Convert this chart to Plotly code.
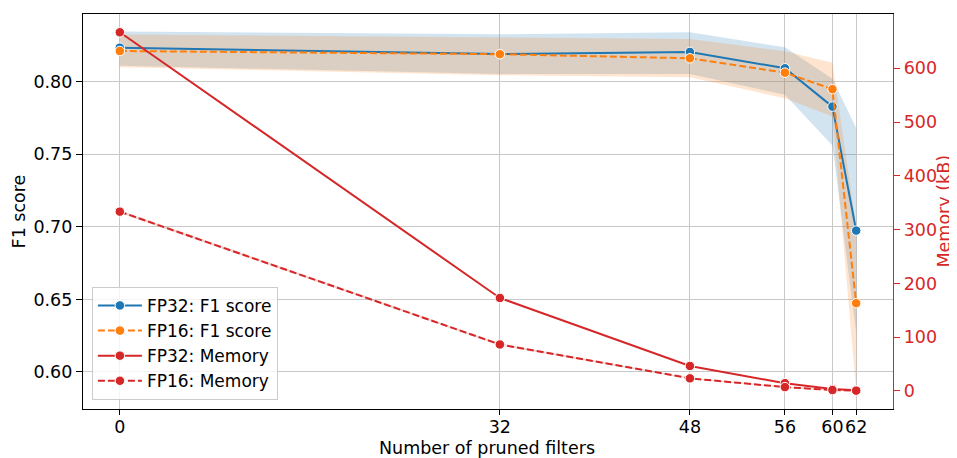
import plotly.graph_objects as go

# ---- data ----
pruned = [0, 32, 48, 56, 60, 62]
x_ticks = [0, 32, 48, 56, 60, 62]

f1_fp32 = [0.8234, 0.8190, 0.8205, 0.8092, 0.7828, 0.6974]
f1_fp32_hi = [0.8345, 0.8326, 0.8340, 0.8237, 0.8020, 0.7680]
f1_fp32_lo = [0.8110, 0.8053, 0.8053, 0.7910, 0.7560, 0.6270]

f1_fp16 = [0.8211, 0.8189, 0.8161, 0.8062, 0.7948, 0.6474]
f1_fp16_hi = [0.8325, 0.8303, 0.8294, 0.8210, 0.8130, 0.7000]
f1_fp16_lo = [0.8100, 0.8044, 0.8030, 0.7886, 0.7760, 0.5870]

mem_fp32 = [667, 173, 46.5, 14.5, 3.5, 1.2]
mem_fp16 = [333.5, 86.5, 23.5, 7.2, 1.8, 0.6]
mem_fp16_hi = [336.0, 88.5, 24.8, 8.2, 2.6, 1.3]
mem_fp16_lo = [331.0, 84.5, 22.2, 6.2, 1.0, 0.0]

y1_ticks = [0.60, 0.65, 0.70, 0.75, 0.80]
y2_ticks = [0, 100, 200, 300, 400, 500, 600]

BLUE = "#1f77b4"
ORANGE = "#ff7f0e"
RED = "#d62728"
FONT = "DejaVu Sans"
FS = 17.5

W, H = 949, 450
ML, MR, MT, MB = 75, 64, 6, 49
PW, PH = W - ML - MR, H - MT - MB

fig = go.Figure()


def band(x, lo, hi, color, yaxis):
    return go.Scatter(
        x=list(x) + list(x)[::-1],
        y=list(hi) + list(lo)[::-1],
        fill="toself",
        fillcolor=color,
        line=dict(width=0),
        mode="lines",
        hoverinfo="skip",
        showlegend=False,
        yaxis=yaxis,
    )


fig.add_trace(band(pruned, f1_fp32_lo, f1_fp32_hi, "rgba(31,119,180,0.2)", "y"))
fig.add_trace(band(pruned, f1_fp16_lo, f1_fp16_hi, "rgba(255,127,14,0.2)", "y"))

marker_common = dict(size=9.5, line=dict(color="white", width=1))

fig.add_trace(go.Scatter(
    x=pruned, y=f1_fp32, name="FP32: F1 score", mode="lines+markers",
    line=dict(color=BLUE, width=2), marker=dict(color=BLUE, **marker_common), yaxis="y"))
fig.add_trace(go.Scatter(
    x=pruned, y=f1_fp16, name="FP16: F1 score", mode="lines+markers",
    line=dict(color=ORANGE, width=2, dash="7px,3px"),
    marker=dict(color=ORANGE, **marker_common), yaxis="y"))

fig.add_trace(band(pruned, mem_fp16_lo, mem_fp16_hi, "rgba(214,39,40,0.2)", "y2"))

fig.add_trace(go.Scatter(
    x=pruned, y=mem_fp32, name="FP32: Memory", mode="lines+markers",
    line=dict(color=RED, width=2), marker=dict(color=RED, **marker_common), yaxis="y2"))
fig.add_trace(go.Scatter(
    x=pruned, y=mem_fp16, name="FP16: Memory", mode="lines+markers",
    line=dict(color=RED, width=2, dash="7px,3px"),
    marker=dict(color=RED, **marker_common), yaxis="y2"))

# page body adds an 8px offset, so the figure is 8px smaller and margins shifted
fig.update_layout(
    width=W, height=H,
    margin=dict(l=ML, r=MR, t=MT, b=MB),
    paper_bgcolor="white", plot_bgcolor="white",
    font=dict(family=FONT, size=FS, color="black"),
    showlegend=True,
    legend=dict(
        x=0.011, y=0.023, xanchor="left", yanchor="bottom",
        bgcolor="rgba(255,255,255,0.8)", bordercolor="#cccccc", borderwidth=1,
        font=dict(family=FONT, size=17), itemwidth=44, tracegroupgap=0,
    ),
    xaxis=dict(
        range=[-3.1, 65.1], tickvals=x_ticks, ticktext=[str(v) for v in x_ticks],
        tickangle=0, automargin=False,
        showgrid=True, gridcolor="#c8c8c8", gridwidth=1,
        showline=True, linecolor="black", linewidth=1.3, mirror=True,
        ticks="outside", ticklen=5, tickwidth=1.1, tickcolor="black",
        ticklabelstandoff=-3,
        zeroline=False,
        tickfont=dict(size=FS),
    ),
    yaxis=dict(
        range=[0.5745, 0.8466], tickvals=y1_ticks, tickformat=".2f",
        automargin=False,
        showgrid=True, gridcolor="#c8c8c8", gridwidth=1,
        showline=True, linecolor="black", linewidth=1.3,
        ticks="outside", ticklen=6, tickwidth=1.1, tickcolor="black",
        zeroline=False,
        title=dict(text="F1 score", standoff=3, font=dict(size=FS)),
        tickfont=dict(size=FS),
    ),
    yaxis2=dict(
        range=[-33.5, 701], tickvals=y2_ticks, overlaying="y", side="right",
        automargin=False,
        showgrid=False, zeroline=False,
        showline=True, linecolor=RED, linewidth=1.3,
        ticks="outside", ticklen=6, tickwidth=1.1, tickcolor=RED,
        tickfont=dict(size=FS, color=RED),
    ),
    annotations=[
        dict(text="Number of pruned filters", xref="paper", yref="paper",
             x=(487 - 83) / PW, y=-39 / PH, xanchor="center", yanchor="middle",
             showarrow=False, font=dict(size=FS, color="black")),
        dict(text="Memory (kB)", xref="paper", yref="paper",
             x=1 + 50 / PW, y=0.5, xanchor="center", yanchor="middle",
             textangle=-90, showarrow=False, font=dict(size=FS, color=RED)),
    ],
)

fig.write_html("out.html")
